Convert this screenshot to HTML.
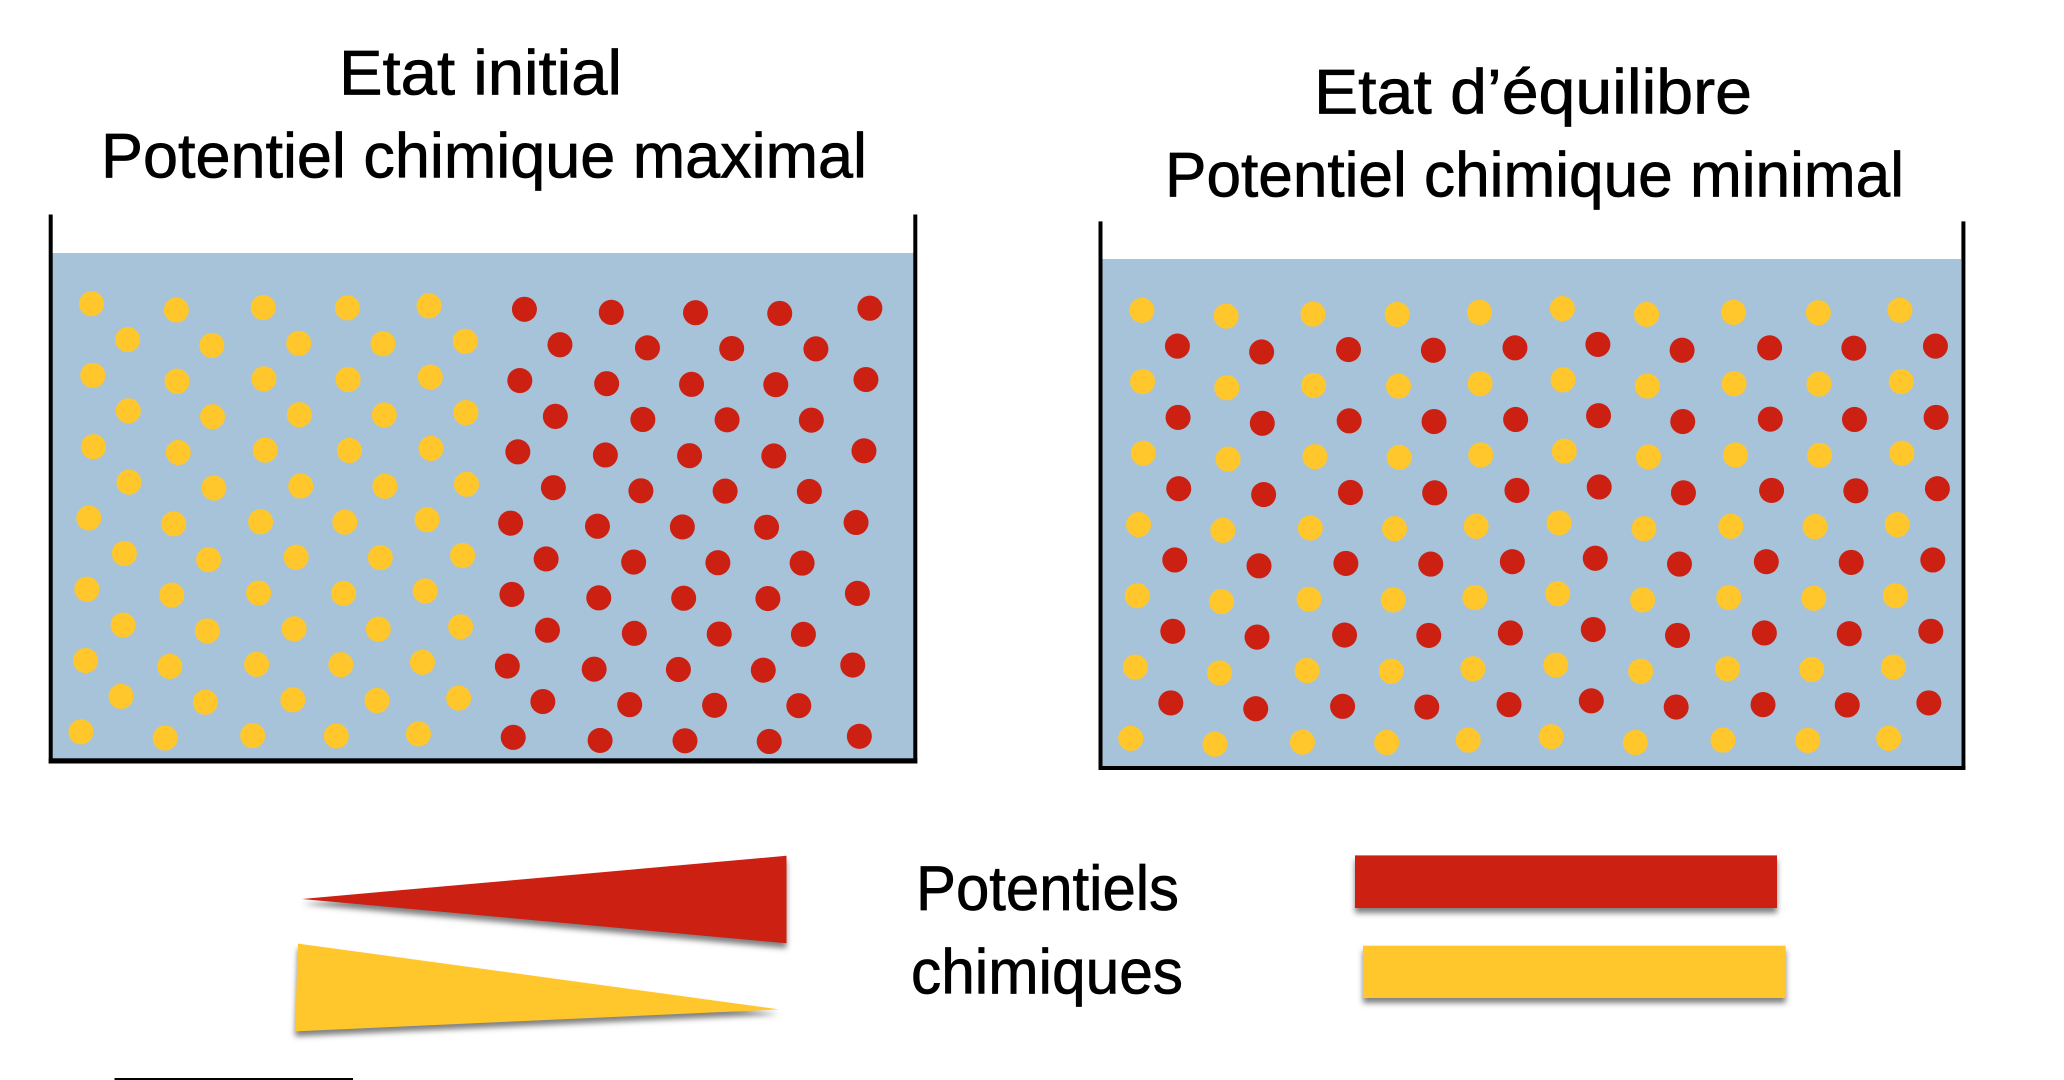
<!DOCTYPE html>
<html lang="fr">
<head>
<meta charset="utf-8">
<title>Potentiel chimique</title>
<style>
html,body{margin:0;padding:0;background:#fff;width:2064px;height:1080px;overflow:hidden}
svg{display:block}
ellipse{rx:19px;ry:36.5px}
.y{fill:#ffc72c}
.r{fill:#cb2012}
text{font-family:"Liberation Sans",sans-serif;font-size:63px;fill:#000;stroke:#000;stroke-width:.7px}
.s{filter:drop-shadow(0 5px 3px rgba(0,0,0,.5))}
</style>
</head>
<body>
<svg width="2064" height="1080" viewBox="0 0 2064 1080" xmlns="http://www.w3.org/2000/svg">
<rect width="2064" height="1080" fill="#fff"/>

<text x="339" y="94.7" textLength="283" lengthAdjust="spacingAndGlyphs">Etat initial</text>
<text x="101" y="177.7" textLength="766" lengthAdjust="spacingAndGlyphs">Potentiel chimique maximal</text>
<text x="1314" y="113.6" textLength="438" lengthAdjust="spacingAndGlyphs">Etat d’équilibre</text>
<text x="1165" y="196.6" textLength="739" lengthAdjust="spacingAndGlyphs">Potentiel chimique minimal</text>
<text x="916" y="910" textLength="263" lengthAdjust="spacingAndGlyphs">Potentiels</text>
<text x="911" y="993.5" textLength="272" lengthAdjust="spacingAndGlyphs">chimiques</text>

<rect x="52" y="253" width="862" height="506" fill="#a7c3d9"/>
<rect x="48.7" y="214.5" width="4" height="549" fill="#000"/>
<rect x="913.3" y="214.5" width="4" height="549" fill="#000"/>
<rect x="48.7" y="758.3" width="868.6" height="5.2" fill="#000"/>

<rect x="1102" y="259" width="859" height="508" fill="#a7c3d9"/>
<rect x="1098.5" y="221.4" width="4" height="548" fill="#000"/>
<rect x="1961.4" y="221.4" width="4" height="548" fill="#000"/>
<rect x="1098.5" y="766" width="866.9" height="4" fill="#000"/>

<g transform="scale(0.6580,0.3444)">
<g class="y">
<ellipse cx="139" cy="882"/><ellipse cx="268" cy="900"/><ellipse cx="400" cy="893"/><ellipse cx="528" cy="894"/><ellipse cx="652" cy="888"/>
<ellipse cx="194" cy="986"/><ellipse cx="322" cy="1003"/><ellipse cx="454" cy="997"/><ellipse cx="582" cy="998"/><ellipse cx="707" cy="991"/>
<ellipse cx="141" cy="1090"/><ellipse cx="269" cy="1107"/><ellipse cx="401" cy="1100"/><ellipse cx="529" cy="1102"/><ellipse cx="654" cy="1095"/>
<ellipse cx="195" cy="1193"/><ellipse cx="323" cy="1210"/><ellipse cx="455" cy="1204"/><ellipse cx="584" cy="1205"/><ellipse cx="708" cy="1198"/>
<ellipse cx="142" cy="1297"/><ellipse cx="271" cy="1314"/><ellipse cx="403" cy="1307"/><ellipse cx="531" cy="1308"/><ellipse cx="655" cy="1302"/>
<ellipse cx="196" cy="1400"/><ellipse cx="325" cy="1417"/><ellipse cx="457" cy="1411"/><ellipse cx="585" cy="1412"/><ellipse cx="709" cy="1406"/>
<ellipse cx="135" cy="1504"/><ellipse cx="264" cy="1521"/><ellipse cx="396" cy="1515"/><ellipse cx="524" cy="1516"/><ellipse cx="649" cy="1509"/>
</g>
<g class="r">
<ellipse cx="797" cy="898"/><ellipse cx="929" cy="907"/><ellipse cx="1057" cy="908"/><ellipse cx="1185" cy="910"/><ellipse cx="1322" cy="895"/>
<ellipse cx="851" cy="1001"/><ellipse cx="984" cy="1010"/><ellipse cx="1112" cy="1012"/><ellipse cx="1240" cy="1013"/>
<ellipse cx="790" cy="1105"/><ellipse cx="922" cy="1114"/><ellipse cx="1051" cy="1116"/><ellipse cx="1179" cy="1117"/><ellipse cx="1316" cy="1102"/>
<ellipse cx="844" cy="1209"/><ellipse cx="977" cy="1218"/><ellipse cx="1105" cy="1219"/><ellipse cx="1233" cy="1220"/>
<ellipse cx="787" cy="1312"/><ellipse cx="920" cy="1321"/><ellipse cx="1048" cy="1323"/><ellipse cx="1176" cy="1324"/><ellipse cx="1313" cy="1309"/>
<ellipse cx="841" cy="1416"/><ellipse cx="974" cy="1425"/><ellipse cx="1102" cy="1426"/><ellipse cx="1230" cy="1427"/>
<ellipse cx="776" cy="1519"/><ellipse cx="908" cy="1528"/><ellipse cx="1037" cy="1530"/><ellipse cx="1165" cy="1531"/><ellipse cx="1301" cy="1517"/>
</g>
</g>

<g transform="translate(0,540) scale(0.6580,0.3444)">
<g class="y">
<ellipse cx="189" cy="39"/><ellipse cx="317" cy="57"/><ellipse cx="450" cy="50"/><ellipse cx="578" cy="51"/><ellipse cx="703" cy="45"/>
<ellipse cx="132" cy="143"/><ellipse cx="261" cy="160"/><ellipse cx="393" cy="154"/><ellipse cx="522" cy="155"/><ellipse cx="646" cy="148"/>
<ellipse cx="187" cy="247"/><ellipse cx="315" cy="264"/><ellipse cx="447" cy="258"/><ellipse cx="575" cy="259"/><ellipse cx="700" cy="252"/>
<ellipse cx="130" cy="350"/><ellipse cx="258" cy="367"/><ellipse cx="390" cy="361"/><ellipse cx="518" cy="362"/><ellipse cx="642" cy="355"/>
<ellipse cx="184" cy="454"/><ellipse cx="312" cy="471"/><ellipse cx="445" cy="464"/><ellipse cx="573" cy="466"/><ellipse cx="697" cy="459"/>
<ellipse cx="123" cy="557"/><ellipse cx="251" cy="575"/><ellipse cx="384" cy="568"/><ellipse cx="511" cy="569"/><ellipse cx="636" cy="563"/>
</g>
<g class="r">
<ellipse cx="830" cy="55"/><ellipse cx="963" cy="64"/><ellipse cx="1091" cy="66"/><ellipse cx="1219" cy="67"/>
<ellipse cx="778" cy="158"/><ellipse cx="910" cy="168"/><ellipse cx="1039" cy="169"/><ellipse cx="1167" cy="170"/><ellipse cx="1303" cy="155"/>
<ellipse cx="832" cy="262"/><ellipse cx="964" cy="271"/><ellipse cx="1093" cy="273"/><ellipse cx="1221" cy="274"/>
<ellipse cx="771" cy="366"/><ellipse cx="903" cy="375"/><ellipse cx="1031" cy="376"/><ellipse cx="1160" cy="378"/><ellipse cx="1296" cy="363"/>
<ellipse cx="825" cy="469"/><ellipse cx="957" cy="478"/><ellipse cx="1086" cy="480"/><ellipse cx="1214" cy="481"/>
<ellipse cx="780" cy="573"/><ellipse cx="912" cy="582"/><ellipse cx="1041" cy="583"/><ellipse cx="1169" cy="585"/><ellipse cx="1306" cy="570"/>
</g>
</g>

<g transform="translate(1032,0) scale(0.6580,0.3444)">
<g class="y">
<ellipse cx="167" cy="901"/><ellipse cx="295" cy="918"/><ellipse cx="427" cy="912"/><ellipse cx="555" cy="913"/><ellipse cx="680" cy="907"/><ellipse cx="806" cy="896"/><ellipse cx="934" cy="913"/><ellipse cx="1066" cy="907"/><ellipse cx="1195" cy="908"/><ellipse cx="1319" cy="901"/>
<ellipse cx="168" cy="1108"/><ellipse cx="296" cy="1126"/><ellipse cx="428" cy="1119"/><ellipse cx="557" cy="1121"/><ellipse cx="681" cy="1114"/><ellipse cx="807" cy="1103"/><ellipse cx="935" cy="1121"/><ellipse cx="1067" cy="1114"/><ellipse cx="1196" cy="1115"/><ellipse cx="1321" cy="1108"/>
<ellipse cx="169" cy="1316"/><ellipse cx="298" cy="1333"/><ellipse cx="430" cy="1326"/><ellipse cx="558" cy="1328"/><ellipse cx="682" cy="1321"/><ellipse cx="809" cy="1310"/><ellipse cx="937" cy="1327"/><ellipse cx="1069" cy="1321"/><ellipse cx="1197" cy="1322"/><ellipse cx="1322" cy="1316"/>
<ellipse cx="162" cy="1523"/><ellipse cx="290" cy="1540"/><ellipse cx="423" cy="1533"/><ellipse cx="551" cy="1535"/><ellipse cx="675" cy="1528"/><ellipse cx="801" cy="1518"/><ellipse cx="930" cy="1535"/><ellipse cx="1062" cy="1528"/><ellipse cx="1190" cy="1529"/><ellipse cx="1315" cy="1523"/>
</g>
<g class="r">
<ellipse cx="221" cy="1005"/><ellipse cx="349" cy="1022"/><ellipse cx="481" cy="1015"/><ellipse cx="610" cy="1017"/><ellipse cx="734" cy="1010"/><ellipse cx="860" cy="1000"/><ellipse cx="988" cy="1017"/><ellipse cx="1121" cy="1010"/><ellipse cx="1249" cy="1011"/><ellipse cx="1373" cy="1005"/>
<ellipse cx="222" cy="1212"/><ellipse cx="350" cy="1229"/><ellipse cx="482" cy="1222"/><ellipse cx="611" cy="1224"/><ellipse cx="735" cy="1218"/><ellipse cx="861" cy="1207"/><ellipse cx="989" cy="1224"/><ellipse cx="1122" cy="1217"/><ellipse cx="1250" cy="1218"/><ellipse cx="1374" cy="1212"/>
<ellipse cx="223" cy="1419"/><ellipse cx="352" cy="1436"/><ellipse cx="484" cy="1430"/><ellipse cx="612" cy="1431"/><ellipse cx="737" cy="1424"/><ellipse cx="862" cy="1414"/><ellipse cx="990" cy="1431"/><ellipse cx="1124" cy="1424"/><ellipse cx="1252" cy="1425"/><ellipse cx="1376" cy="1419"/>
</g>
</g>

<g transform="translate(1032,540) scale(0.6580,0.3444)">
<g class="r">
<ellipse cx="217" cy="58"/><ellipse cx="345" cy="75"/><ellipse cx="477" cy="68"/><ellipse cx="606" cy="70"/><ellipse cx="730" cy="63"/><ellipse cx="856" cy="53"/><ellipse cx="984" cy="70"/><ellipse cx="1116" cy="63"/><ellipse cx="1245" cy="65"/><ellipse cx="1369" cy="58"/>
<ellipse cx="214" cy="265"/><ellipse cx="342" cy="282"/><ellipse cx="475" cy="276"/><ellipse cx="603" cy="277"/><ellipse cx="727" cy="270"/><ellipse cx="853" cy="260"/><ellipse cx="981" cy="277"/><ellipse cx="1113" cy="270"/><ellipse cx="1242" cy="272"/><ellipse cx="1366" cy="265"/>
<ellipse cx="211" cy="473"/><ellipse cx="340" cy="490"/><ellipse cx="472" cy="483"/><ellipse cx="600" cy="485"/><ellipse cx="725" cy="478"/><ellipse cx="850" cy="467"/><ellipse cx="979" cy="485"/><ellipse cx="1111" cy="478"/><ellipse cx="1239" cy="479"/><ellipse cx="1363" cy="473"/>
</g>
<g class="y">
<ellipse cx="160" cy="162"/><ellipse cx="288" cy="179"/><ellipse cx="421" cy="172"/><ellipse cx="549" cy="174"/><ellipse cx="673" cy="167"/><ellipse cx="799" cy="156"/><ellipse cx="928" cy="174"/><ellipse cx="1059" cy="167"/><ellipse cx="1188" cy="169"/><ellipse cx="1312" cy="162"/>
<ellipse cx="157" cy="369"/><ellipse cx="285" cy="386"/><ellipse cx="418" cy="379"/><ellipse cx="546" cy="381"/><ellipse cx="670" cy="374"/><ellipse cx="796" cy="363"/><ellipse cx="925" cy="381"/><ellipse cx="1057" cy="374"/><ellipse cx="1185" cy="376"/><ellipse cx="1309" cy="369"/>
<ellipse cx="150" cy="576"/><ellipse cx="278" cy="593"/><ellipse cx="411" cy="587"/><ellipse cx="539" cy="588"/><ellipse cx="663" cy="581"/><ellipse cx="789" cy="571"/><ellipse cx="917" cy="588"/><ellipse cx="1050" cy="581"/><ellipse cx="1179" cy="582"/><ellipse cx="1302" cy="576"/>
</g>
</g>

<polygon class="s" points="302,899 786.5,855.8 786.5,943.3" fill="#cb2012"/>
<polygon class="s" points="298,943.6 779,1009.4 295,1031.4" fill="#ffc72c"/>
<rect class="s" x="1355" y="855.4" width="422" height="52.6" fill="#cb2012"/>
<rect class="s" x="1363" y="945.7" width="422.7" height="52.3" fill="#ffc72c"/>

<rect x="114.5" y="1078" width="238.5" height="2" fill="#000"/>
</svg>
</body>
</html>
